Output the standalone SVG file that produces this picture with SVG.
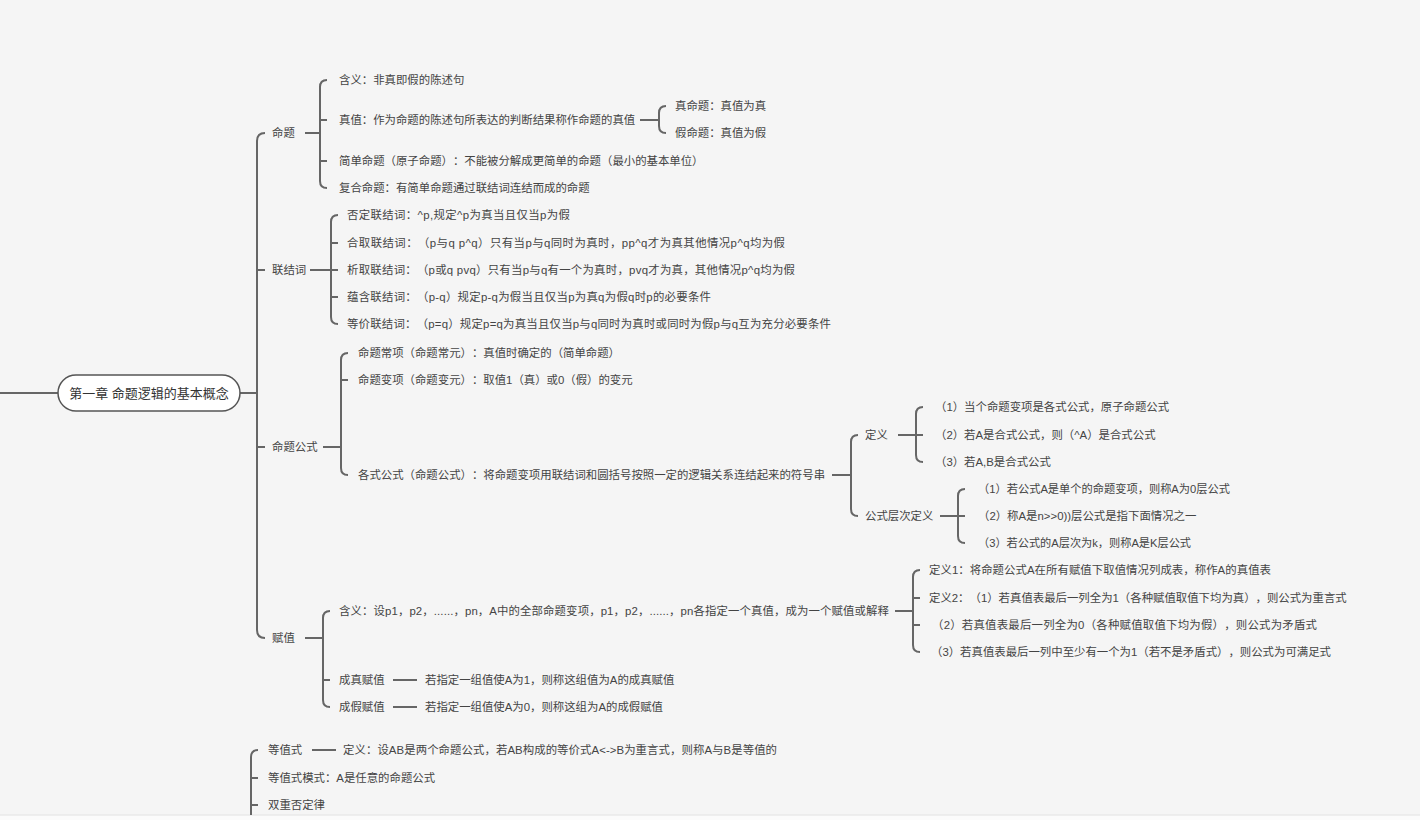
<svg xmlns="http://www.w3.org/2000/svg" width="1420" height="820" viewBox="0 0 1420 820">
<style>
text{text-spacing-trim:space-all}
.t{font-family:"Liberation Sans","Noto Sans CJK SC",sans-serif;font-size:11.4px;fill:#444;dominant-baseline:central}
.r{font-family:"Liberation Sans","Noto Sans CJK SC",sans-serif;font-size:13px;fill:#333;dominant-baseline:central}
.c{fill:none;stroke:#666;stroke-width:2}
</style>
<rect x="0" y="0" width="1420" height="820" fill="#f5f5f5"/>
<rect x="0" y="815" width="1420" height="5" fill="#fbfbfb"/>
<line x1="0" y1="815" x2="1420" y2="815" stroke="#e2e2e2" stroke-width="1"/>
<g id="connectors" class="c">
<path d="M0 393H58M240 393H257"/>
<path d="M265 133Q257 133 257 141V630Q257 638 265 638M257 270H265M257 447H265"/>
<path d="M305 133H320M327 80Q320 80 320 87V181Q320 188 327 188M320 120H327M320 161H327"/>
<path d="M640 120H659M666 106Q659 106 659 113V126Q659 133 666 133"/>
<path d="M310 270H338M338 215Q331 215 331 222V317Q331 324 338 324M331 243H338M331 297H338"/>
<path d="M323 447H341M348 353Q341 353 341 360V468Q341 475 348 475M341 380H348"/>
<path d="M832 475H851M858 435Q851 435 851 442V509Q851 516 858 516"/>
<path d="M898 435H923M923 407Q916 407 916 414V455Q916 462 923 462"/>
<path d="M940 516H965M965 489Q958 489 958 496V536Q958 543 965 543"/>
<path d="M305 638H323M330 611Q323 611 323 618V700Q323 707 330 707M323 680H330"/>
<path d="M895 611H913M920 570Q913 570 913 577V645Q913 652 920 652M913 598H920M913 625H920"/>
<path d="M393 680H417M393 707H417"/>
<path d="M258 750Q251 750 251 757V815M251 778H258M251 805H258"/>
<path d="M312 750H336"/>
</g>
<g id="root"><rect x="58" y="375" width="182" height="36" rx="18" fill="#fff" stroke="#555" stroke-width="1.5"/><text class="r" x="149" y="393" text-anchor="middle">第一章 命题逻辑的基本概念</text></g>
<g id="n-mingti"><text class="t" x="272" y="133">命题</text></g>
<g id="n-hanyi"><text class="t" x="339" y="80">含义：非真即假的陈述句</text></g>
<g id="n-zhenzhi"><text class="t" x="339" y="120">真值：作为命题的陈述句所表达的判断结果称作命题的真值</text></g>
<g id="n-zhenmt"><text class="t" x="675" y="106">真命题：真值为真</text></g>
<g id="n-jiamt"><text class="t" x="675" y="133">假命题：真值为假</text></g>
<g id="n-jiandan"><text class="t" x="339" y="161">简单命题（原子命题）：不能被分解成更简单的命题（最小的基本单位）</text></g>
<g id="n-fuhe"><text class="t" x="339" y="188">复合命题：有简单命题通过联结词连结而成的命题</text></g>
<g id="n-lianjieci"><text class="t" x="272" y="270">联结词</text></g>
<g id="n-fouding"><text class="t" x="347" y="215" textLength="223" lengthAdjust="spacing">否定联结词：^p,规定^p为真当且仅当p为假</text></g>
<g id="n-hequ"><text class="t" x="347" y="243" textLength="438" lengthAdjust="spacing">合取联结词：（p与q p^q）只有当p与q同时为真时，pp^q才为真其他情况p^q均为假</text></g>
<g id="n-xiqu"><text class="t" x="347" y="270" textLength="448" lengthAdjust="spacing">析取联结词：（p或q pvq）只有当p与q有一个为真时，pvq才为真，其他情况p^q均为假</text></g>
<g id="n-yunhan"><text class="t" x="347" y="297" textLength="364" lengthAdjust="spacing">蕴含联结词：（p-q）规定p-q为假当且仅当p为真q为假q时p的必要条件</text></g>
<g id="n-dengjia"><text class="t" x="347" y="324" textLength="484" lengthAdjust="spacing">等价联结词：（p=q）规定p=q为真当且仅当p与q同时为真时或同时为假p与q互为充分必要条件</text></g>
<g id="n-gongshi"><text class="t" x="272" y="447">命题公式</text></g>
<g id="n-changxiang"><text class="t" x="358" y="353">命题常项（命题常元）：真值时确定的（简单命题）</text></g>
<g id="n-bianxiang"><text class="t" x="358" y="380">命题变项（命题变元）：取值1（真）或0（假）的变元</text></g>
<g id="n-geshi"><text class="t" x="358" y="475">各式公式（命题公式）：将命题变项用联结词和圆括号按照一定的逻辑关系连结起来的符号串</text></g>
<g id="n-dingyi"><text class="t" x="865" y="435">定义</text></g>
<g id="n-dy1"><text class="t" x="935" y="407">（1）当个命题变项是各式公式，原子命题公式</text></g>
<g id="n-dy2"><text class="t" x="935" y="435">（2）若A是合式公式，则（^A）是合式公式</text></g>
<g id="n-dy3"><text class="t" x="935" y="462">（3）若A,B是合式公式</text></g>
<g id="n-cengci"><text class="t" x="865" y="516">公式层次定义</text></g>
<g id="n-cc1"><text class="t" x="978" y="489" textLength="252" lengthAdjust="spacingAndGlyphs">（1）若公式A是单个的命题变项，则称A为0层公式</text></g>
<g id="n-cc2"><text class="t" x="978" y="516">（2）称A是n&gt;&gt;0))层公式是指下面情况之一</text></g>
<g id="n-cc3"><text class="t" x="978" y="543" textLength="213" lengthAdjust="spacingAndGlyphs">（3）若公式的A层次为k，则称A是K层公式</text></g>
<g id="n-fuzhi"><text class="t" x="272" y="638">赋值</text></g>
<g id="n-fzhanyi"><text class="t" x="339" y="611" textLength="550" lengthAdjust="spacing">含义：设p1，p2，......，pn，A中的全部命题变项，p1，p2，......，pn各指定一个真值，成为一个赋值或解释</text></g>
<g id="n-zd1"><text class="t" x="929" y="570" textLength="342" lengthAdjust="spacing">定义1：将命题公式A在所有赋值下取值情况列成表，称作A的真值表</text></g>
<g id="n-zd2"><text class="t" x="929" y="598">定义2：（1）若真值表最后一列全为1（各种赋值取值下均为真），则公式为重言式</text></g>
<g id="n-zd3"><text class="t" x="932" y="625" textLength="385" lengthAdjust="spacing">（2）若真值表最后一列全为0（各种赋值取值下均为假），则公式为矛盾式</text></g>
<g id="n-zd4"><text class="t" x="931" y="652">（3）若真值表最后一列中至少有一个为1（若不是矛盾式），则公式为可满足式</text></g>
<g id="n-chengzhen"><text class="t" x="339" y="680">成真赋值</text></g>
<g id="n-chengzhen-d"><text class="t" x="425" y="680">若指定一组值使A为1，则称这组值为A的成真赋值</text></g>
<g id="n-chengjia"><text class="t" x="339" y="707">成假赋值</text></g>
<g id="n-chengjia-d"><text class="t" x="425" y="707">若指定一组值使A为0，则称这组为A的成假赋值</text></g>
<g id="n-dengzhishi"><text class="t" x="268" y="750">等值式</text></g>
<g id="n-dzs-d"><text class="t" x="343" y="750" textLength="434" lengthAdjust="spacing">定义：设AB是两个命题公式，若AB构成的等价式A&lt;-&gt;B为重言式，则称A与B是等值的</text></g>
<g id="n-moshi"><text class="t" x="268" y="778">等值式模式：A是任意的命题公式</text></g>
<g id="n-shuangchong"><text class="t" x="268" y="805">双重否定律</text></g>
</svg>
